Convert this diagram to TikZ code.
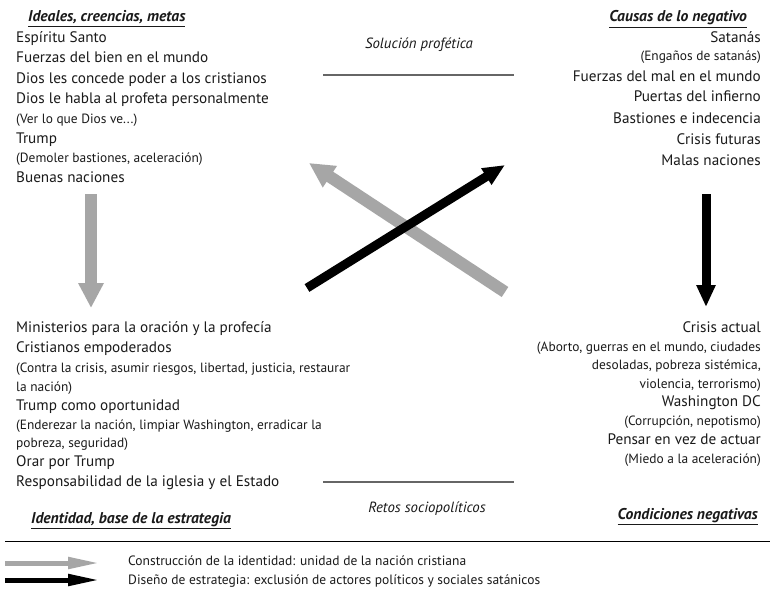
\documentclass[tikz,border=0pt]{standalone}
\usepackage{fontspec}
\setmainfont{PT Sans}
\usetikzlibrary{arrows.meta}
\definecolor{ink}{HTML}{1A1A1A}
\definecolor{lightarrow}{HTML}{A6A6A6}
\definecolor{rule}{HTML}{666666}
\tikzset{
  main/.style={font=\fontsize{15.2}{17}\selectfont, text=ink, inner sep=0pt},
  small/.style={font=\fontsize{13.4}{15}\selectfont, text=ink, inner sep=0pt},
  legendtext/.style={font=\fontsize{13.5}{15}\selectfont, text=ink, inner sep=0pt},
  head/.style={font=\fontsize{15.6}{17}\selectfont\bfseries\itshape, text=ink, inner sep=0pt},
  caption/.style={font=\fontsize{14.8}{17}\selectfont\itshape, text=ink, inner sep=0pt},
  lft/.style={anchor=base west},
  rgt/.style={anchor=base east},
  ctr/.style={anchor=base},
  grayarrow/.style={draw=lightarrow, line width=12pt, -{Triangle[length=25pt,width=24pt]}},
  blackarrow/.style={draw=black, line width=9pt, -{Triangle[length=22pt,width=18pt]}},
  divider/.style={draw=rule, line width=2.8pt},
  legendgray/.style={draw=lightarrow, line width=5pt, -{Triangle[length=32pt,width=11pt]}},
  legendblack/.style={draw=black, line width=5pt, -{Triangle[length=32pt,width=11pt]}},
}
\begin{document}
\begin{tikzpicture}[x=1pt, y=-1pt]
\useasboundingbox[fill=white] (0,0) rectangle (770,591);

% Top left: ideals
\node[head, lft] (h1) at (28,22) {\underline{Ideales, creencias, metas}};
\node[main, lft] (a1) at (16,43) {Espíritu Santo};
\node[main, lft] (a2) at (16,63) {Fuerzas del bien en el mundo};
\node[main, lft] (a3) at (16,84) {Dios les concede poder a los cristianos};
\node[main, lft] (a4) at (16,104) {Dios le habla al profeta personalmente};
\node[small, lft] (a5) at (16,123) {(Ver lo que Dios ve...)};
\node[main, lft] (a6) at (16,143) {Trump};
\node[small, lft] (a7) at (16,162) {(Demoler bastiones, aceleración)};
\node[main, lft] (a8) at (16,182) {Buenas naciones};

% Top right: causes
\node[head, rgt] (h2) at (747,22) {\underline{Causas de lo negativo}};
\node[main, rgt] (b1) at (761,43) {Satanás};
\node[small, rgt] (b2) at (761,61) {(Engaños de satanás)};
\node[main, rgt] (b3) at (761,82) {Fuerzas del mal en el mundo};
\node[main, rgt] (b4) at (761,102) {Puertas del infierno};
\node[main, rgt] (b5) at (761,123) {Bastiones e indecencia};
\node[main, rgt] (b6) at (761,144) {Crisis futuras};
\node[main, rgt] (b7) at (761,165) {Malas naciones};

% Bottom left: identity
\node[main, lft] (c1) at (16,332) {Ministerios para la oración y la profecía};
\node[main, lft] (c2) at (16,352) {Cristianos empoderados};
\node[small, lft] (c3) at (16,372) {(Contra la crisis, asumir riesgos, libertad, justicia, restaurar};
\node[small, lft] (c4) at (16,391) {la nación)};
\node[main, lft] (c5) at (16,410) {Trump como oportunidad};
\node[small, lft] (c6) at (16,429) {(Enderezar la nación, limpiar Washington, erradicar la};
\node[small, lft] (c7) at (16,447) {pobreza, seguridad)};
\node[main, lft] (c8) at (16,466) {Orar por Trump};
\node[main, lft] (c9) at (16,486) {Responsabilidad de la iglesia y el Estado};
\node[head, lft] (h3) at (31,523) {\underline{Identidad, base de la estrategia}};

% Bottom right: negative conditions
\node[main, rgt] (d1) at (761,332) {Crisis actual};
\node[small, rgt] (d2) at (761,351) {(Aborto, guerras en el mundo, ciudades};
\node[small, rgt] (d3) at (761,369) {desoladas, pobreza sistémica,};
\node[small, rgt] (d4) at (761,388) {violencia, terrorismo)};
\node[main, rgt] (d5) at (761,406) {Washington DC};
\node[small, rgt] (d6) at (761,425) {(Corrupción, nepotismo)};
\node[main, rgt] (d7) at (761,444) {Pensar en vez de actuar};
\node[small, rgt] (d8) at (761,463) {(Miedo a la aceleración)};
\node[head, rgt] (h4) at (758,519) {\underline{Condiciones negativas}};

% Middle captions and dividers
\node[caption, ctr] (sol) at (419,49) {Solución profética};
\coordinate (s1) at (323,75);
\coordinate (s2) at (514,75);
\draw[divider] (s1) -- (s2);
\node[caption, ctr] (ret) at (427,512) {Retos sociopolíticos};
\coordinate (r1) at (323,482);
\coordinate (r2) at (514,482);
\draw[divider] (r1) -- (r2);

% Vertical arrows
\coordinate (gv1) at (91,194);
\coordinate (gv2) at (91,308);
\draw[grayarrow] (gv1) -- (gv2);
\coordinate (bv1) at (706,194);
\coordinate (bv2) at (706,307);
\draw[blackarrow] (bv1) -- (bv2);

% Crossing arrows
\coordinate (gx1) at (505,292);
\coordinate (gx2) at (309,163);
\draw[grayarrow] (gx1) -- (gx2);
\coordinate (bx1) at (307,288);
\coordinate (bx2) at (505,165);
\draw[blackarrow] (bx1) -- (bx2);

% Legend
\coordinate (lrule1) at (5,541);
\coordinate (lrule2) at (770,541);
\draw[black, line width=0.8pt] (lrule1) -- (lrule2);
\coordinate (lg1) at (5,563);
\coordinate (lg2) at (100,563);
\draw[legendgray] (lg1) -- (lg2);
\node[legendtext, lft] (lt1) at (128,565) {Construcción de la identidad: unidad de la nación cristiana};
\coordinate (lb1) at (5,580);
\coordinate (lb2) at (100,580);
\draw[legendblack] (lb1) -- (lb2);
\node[legendtext, lft] (lt2) at (128,584) {Diseño de estrategia: exclusión de actores políticos y sociales satánicos};
\end{tikzpicture}
\end{document}
